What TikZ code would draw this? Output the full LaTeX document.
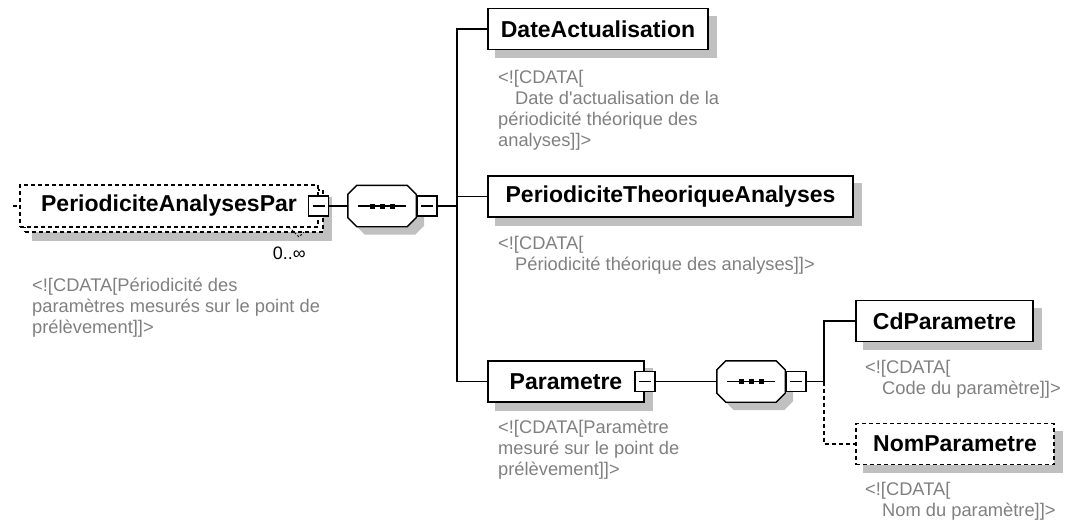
\documentclass[tikz,border=0pt]{standalone}
\usepackage{fontspec}
\setmainfont{Liberation Sans}
\newfontfamily\xsfam{Liberation Sans}
\usetikzlibrary{backgrounds}
\definecolor{cmtgray}{RGB}{128,128,128}
\definecolor{shadowgray}{RGB}{192,192,192}
\newcommand\elemfont{\xsfam\fontsize{23}{27}\selectfont\bfseries}
\newcommand\cmtfont{\xsfam\fontsize{18.3}{21}\selectfont}
\newcommand\seqoutline[1]{%
  \draw[line width=1.4pt, fill=white]
    ([xshift=9pt]#1.north west) -- ([xshift=-9pt]#1.north east) --
    ([yshift=-9pt]#1.north east) -- ([yshift=9pt]#1.south east) --
    ([xshift=-9pt]#1.south east) -- ([xshift=9pt]#1.south west) --
    ([yshift=9pt]#1.south west) -- ([yshift=-9pt]#1.north west) -- cycle;
  \draw[line width=1.4pt] ([xshift=-24pt]#1.center) -- ([xshift=24pt]#1.center);
  \fill ([shift={(-12.5pt,-2.5pt)}]#1.center) rectangle ++(5pt,5pt);
  \fill ([shift={(-2.5pt,-2.5pt)}]#1.center) rectangle ++(5pt,5pt);
  \fill ([shift={(7.5pt,-2.5pt)}]#1.center) rectangle ++(5pt,5pt);
}
\newcommand\seqshadow[1]{%
  \fill[shadowgray]
    ([shift={(17pt,-8pt)}]#1.north west) -- ([shift={(-1pt,-8pt)}]#1.north east) --
    ([shift={(8pt,-17pt)}]#1.north east) -- ([shift={(8pt,1pt)}]#1.south east) --
    ([shift={(-1pt,-8pt)}]#1.south east) -- ([shift={(17pt,-8pt)}]#1.south west) --
    ([shift={(8pt,1pt)}]#1.south west) -- ([shift={(8pt,-17pt)}]#1.north west) -- cycle;
}
\newcommand\boxshadow[1]{%
  \fill[shadowgray] ([shift={(8pt,-8pt)}]#1.north west) rectangle ([shift={(8pt,-8pt)}]#1.south east);
}
\tikzset{
  elembox/.style={draw=black, line width=1.8pt, fill=white, font=\elemfont,
    inner sep=0pt, minimum height=41pt},
  optdash/.style={line width=1.4pt, dash pattern=on 4pt off 3pt},
  cmt/.style={font=\cmtfont, text=cmtgray, align=left, anchor=north west, inner sep=0pt},
  minusbox/.style={draw=black, line width=1.3pt, fill=white, minimum width=20pt,
    minimum height=20pt, inner sep=0pt,
    path picture={\draw[line width=1.3pt] ([xshift=4pt]path picture bounding box.west)
      -- ([xshift=-4pt]path picture bounding box.east);}},
  seqholder/.style={draw=none, minimum width=68pt, minimum height=41pt, inner sep=0pt},
  conn/.style={line width=1.4pt},
}
\begin{document}
\begin{tikzpicture}[x=1pt,y=-1pt]
\useasboundingbox (0,0) rectangle (1068,523);

% root element (multiple, optional)
\node[elembox, optdash, minimum width=298pt, minimum height=42pt] (rootback) at (174,211) {};
\node[elembox, optdash, minimum width=298pt, minimum height=42pt] (root) at (169,206) {PeriodiciteAnalysesPar};
\node[minusbox] (rootmin) at (root.east) {};
\coordinate (rootin) at (13,206);
\draw[optdash] (rootin) -- (root.west);
\draw[line width=0.9pt, dash pattern=on 2pt off 2pt] (289,227) -- (299,237) -- (304,232);
\node[font=\xsfam\fontsize{18}{20}\selectfont, anchor=east, inner sep=0pt] (mult) at (306,253) {0..∞};
\node[cmt] (rootc) at (32,278) {<![CDATA[Périodicité des\\paramètres mesurés sur le point de\\prélèvement]]>};

% first sequence
\node[seqholder] (seq1) at (382,206) {};
\seqoutline{seq1}
\node[minusbox, anchor=west] (seq1min) at (seq1.east) {};
\draw[conn] (rootmin.east) -- (seq1.west);
\coordinate (bus1) at (457,206);

% children
\node[elembox, minimum width=220pt] (da) at (598,29) {DateActualisation};
\node[cmt] (dac) at (498,70) {<![CDATA[\\\hspace*{17pt}Date d'actualisation de la\\périodicité théorique des\\analyses]]>};

\node[elembox, minimum width=365pt] (pta) at (670.5,196.5) {PeriodiciteTheoriqueAnalyses};
\node[cmt] (ptac) at (498,236) {<![CDATA[\\\hspace*{17pt}Périodicité théorique des analyses]]>};

\node[elembox, minimum width=156pt] (param) at (566,381.5) {Parametre};
\node[minusbox] (parammin) at (param.east) {};
\node[cmt] (paramc) at (498,420) {<![CDATA[Paramètre\\mesuré sur le point de\\prélèvement]]>};

\draw[conn] (seq1min.east) -- (bus1);
\draw[conn] (bus1) |- (da.west);
\draw[conn] (bus1) |- (pta.west);
\draw[conn] (bus1) |- (param.west);

% second sequence
\node[seqholder] (seq2) at (751,381.5) {};
\seqoutline{seq2}
\node[minusbox, anchor=west] (seq2min) at (seq2.east) {};
\draw[conn] (parammin.east) -- (seq2.west);
\coordinate (bus2) at (824,381.5);
\draw[conn] (seq2min.east) -- (bus2);

\node[elembox, minimum width=177pt] (cd) at (944.5,321) {CdParametre};
\node[cmt] (cdc) at (865,360) {<![CDATA[\\\hspace*{17pt}Code du paramètre]]>};
\node[elembox, optdash, minimum width=198pt] (nom) at (955,444) {NomParametre};
\node[cmt] (nomc) at (865,482) {<![CDATA[\\\hspace*{17pt}Nom du paramètre]]>};

\draw[conn] (bus2) |- (cd.west);
\draw[conn, dash pattern=on 4pt off 3pt] (bus2) |- (nom.west);

% shadows
\begin{scope}[on background layer]
  \boxshadow{rootback}
  \seqshadow{seq1}
  \boxshadow{da}
  \boxshadow{pta}
  \boxshadow{param}
  \seqshadow{seq2}
  \boxshadow{cd}
  \boxshadow{nom}
\end{scope}
\end{tikzpicture}
\end{document}
